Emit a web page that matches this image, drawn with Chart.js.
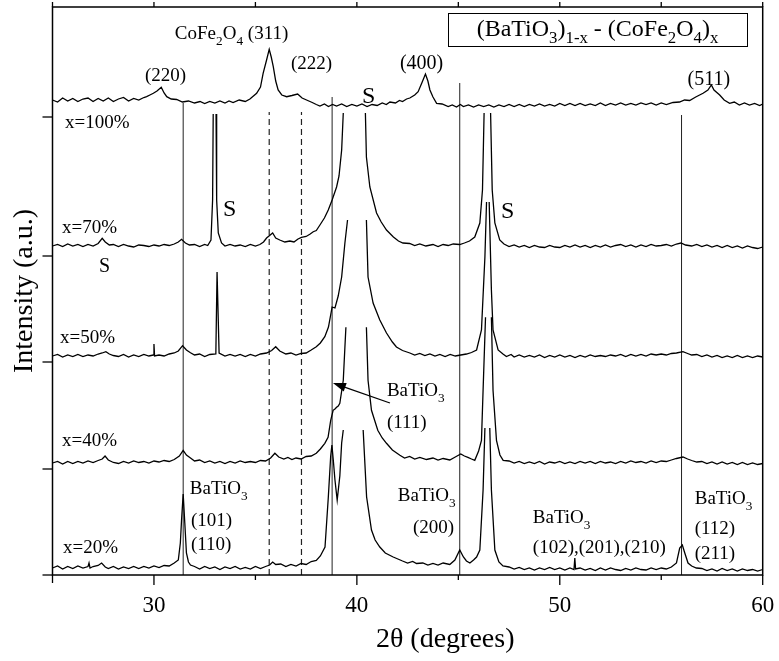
<!DOCTYPE html>
<html>
<head>
<meta charset="utf-8">
<title>XRD (BaTiO3)1-x - (CoFe2O4)x</title>
<script src="https://cdn.jsdelivr.net/npm/chart.js@4.4.0/dist/chart.umd.min.js"></script>
<style>
  html, body { margin: 0; padding: 0; background: #fff; }
  #wrap { width: 779px; height: 661px; }
</style>
</head>
<body>
<div id="wrap"><canvas id="xrdChart" width="779" height="661"></canvas></div>
<script>
// === DATA (2theta in degrees, intensity in a.u. relative to each scan's baseline) ===
const twoThetaRange = [25, 60];
const xTickValues = [25, 30, 35, 40, 45, 50, 55, 60];
const yTickValues = [0, 106, 213, 319, 458];
const yMax = 568;

const sampleLabels = ['x=20%', 'x=40%', 'x=50%', 'x=70%', 'x=100%'];
const stackOffsets = [7, 112, 219, 329, 470];

// null = peak cut off (top of the peak not drawn)
const scan20 = [[25,0],[25.25,2],[25.5,-1],[25.75,1.5],[26,-0.5],[26.25,2],[26.5,0],[26.75,1.5],[26.8,5],[26.85,0],[27,1.5],[27.25,2.5],[27.42,5],[27.6,1],[27.75,-0.5],[28,1.5],[28.25,-1],[28.5,1],[28.75,-0.5],[29,1.5],[29.25,-0.5],[29.5,1.5],[29.75,0],[30,2],[30.25,0.5],[30.5,2.5],[30.75,2],[31,5],[31.2,8],[31.3,25],[31.36,48],[31.44,74],[31.52,45],[31.6,15],[31.7,6],[31.8,3],[32,1.5],[32.25,-1],[32.5,1.5],[32.75,-0.5],[33,1],[33.25,-1.5],[33.5,1],[33.75,-0.5],[34,1.5],[34.25,-1],[34.5,0.5],[34.75,-1],[35,1.5],[35.25,-0.5],[35.5,1.5],[35.7,3],[35.85,6],[36,3.5],[36.25,4],[36.5,1.5],[36.75,3.5],[37,2],[37.25,4.5],[37.5,3.5],[37.75,6.5],[38,7.5],[38.2,12],[38.43,21],[38.59,70],[38.71,112],[38.77,123],[38.85,105],[38.92,88],[39.03,68],[39.16,92],[39.25,125],[39.33,138],[39.8,null],[40.31,138],[40.48,71],[40.72,38],[40.9,28],[41.13,21],[41.4,15],[41.79,11],[42.25,7],[42.5,5],[42.75,6.5],[42.94,4.5],[43.25,5],[43.5,3],[43.75,4.5],[44,3],[44.25,5],[44.58,3.5],[44.83,8],[45.07,18],[45.25,11],[45.4,7],[45.57,5],[45.75,8],[45.9,11],[46.06,18],[46.22,78],[46.31,140],[46.43,null],[46.55,140],[46.63,78],[46.8,18],[47,6],[47.2,2],[47.5,1],[47.75,-1],[48,0.5],[48.25,-1.5],[48.5,0],[48.75,-2],[49,0],[49.25,-1.5],[49.5,0.5],[49.75,-1.5],[50,0],[50.25,-2],[50.5,0],[50.7,-1.5],[50.74,10],[50.78,-1],[51,0],[51.25,-2],[51.5,-0.5],[51.75,-2.5],[52,0],[52.25,-2],[52.5,0],[52.75,-1.5],[53,-2.5],[53.25,-0.5],[53.5,-2],[53.75,0],[54,-1.5],[54.25,-2],[54.5,0],[54.75,-1.5],[55,0],[55.25,-1],[55.5,1],[55.75,5],[55.91,20],[56.04,23],[56.16,15],[56.32,5],[56.5,2],[56.73,0],[57,-0.5],[57.25,-2.5],[57.5,-1],[57.75,-3],[58,-0.5],[58.25,-2.5],[58.5,-1],[58.75,-3],[59,-1],[59.25,-2.5],[59.5,-1.5],[59.75,-3],[60,-1.5]];

const scan40 = [[25,0],[25.25,1.5],[25.5,-1],[25.75,1.5],[26,-0.5],[26.25,1.5],[26.5,0],[26.75,2],[27,0.5],[27.25,2.5],[27.45,4],[27.59,7],[27.75,3],[28,0.5],[28.25,-0.5],[28.5,1.5],[28.75,0],[29,2],[29.25,0.5],[29.5,1.5],[29.75,0],[30,2],[30.25,1],[30.5,2.5],[30.75,1.5],[31,3.5],[31.25,7],[31.44,12.7],[31.6,8],[31.8,5],[32,2],[32.25,3],[32.5,0.5],[32.75,2],[33,0],[33.25,1.5],[33.5,-0.5],[33.75,1.5],[34,0],[34.25,2],[34.5,0.5],[34.75,1.5],[35,0.5],[35.25,2.5],[35.5,2],[35.75,5],[35.96,9.7],[36.15,6],[36.4,4],[36.6,5.5],[36.8,3.5],[37,5],[37.25,4],[37.5,6.5],[37.75,7],[38,9.7],[38.2,14],[38.42,19.7],[38.58,25.7],[38.71,42.7],[38.83,52.7],[38.92,54],[39,55.7],[39.08,57],[39.16,59.7],[39.33,82.7],[39.41,115.7],[39.46,135.7],[39.9,null],[40.47,135.7],[40.55,82.7],[40.72,52.7],[41.03,32.7],[41.25,25],[41.46,19.7],[41.75,13],[42.12,7.7],[42.35,5],[42.6,6.5],[42.85,4],[43.1,5.5],[43.43,3.5],[43.75,5],[44,3],[44.25,4.5],[44.58,3],[44.85,6],[45.12,9],[45.3,7],[45.47,5.7],[45.65,4],[45.81,2.7],[46,12],[46.14,22.7],[46.22,72.7],[46.34,145.7],[46.45,null],[46.63,145.7],[46.71,72.7],[46.88,22.7],[47.05,8],[47.21,2.7],[47.5,2],[47.75,0],[48,1.5],[48.25,-0.5],[48.5,1],[48.75,-0.5],[49,1.5],[49.25,-1],[49.5,1],[49.75,0],[50,1.5],[50.25,-0.5],[50.5,1],[50.75,-0.5],[51,1.5],[51.25,0],[51.5,1.5],[51.75,-0.5],[52,1.5],[52.25,0],[52.5,1],[52.75,-0.5],[53,1.5],[53.25,0],[53.5,2],[53.75,0.5],[54,1.5],[54.25,0],[54.5,2],[54.75,0.5],[55,2],[55.25,1.5],[55.5,3],[55.75,4.5],[56.07,6],[56.3,4],[56.5,2.5],[56.75,1],[57,1.5],[57.25,-0.5],[57.5,1],[57.75,-1],[58,1],[58.25,-1],[58.5,0.5],[58.75,-1.5],[59,0.5],[59.25,-1.5],[59.5,0],[59.75,-1.5],[60,-0.5]];

const scan50 = [[25,0],[25.25,1.5],[25.5,-1],[25.75,1],[26,-0.5],[26.25,1.5],[26.5,-0.5],[26.75,1],[27,0],[27.25,2],[27.45,3],[27.63,4.3],[27.8,2],[28,0.5],[28.25,-0.5],[28.5,1.5],[28.75,-1],[29,1],[29.25,-0.5],[29.5,1.5],[29.75,0],[29.97,1],[30,12],[30.03,0],[30.25,1],[30.5,0],[30.75,2],[31,3],[31.2,5],[31.41,10.3],[31.6,6],[31.8,3.3],[32,1],[32.25,2],[32.5,-0.5],[32.75,1.5],[33.05,2],[33.11,84],[33.15,84],[33.21,3],[33.5,0],[33.75,1.5],[34,0],[34.25,1.5],[34.5,-0.5],[34.75,1.5],[35,0],[35.25,2],[35.55,3],[35.8,5.5],[36,9.3],[36.2,5],[36.5,2],[36.75,3],[37,1],[37.25,2.5],[37.5,3],[37.75,6],[38,9.3],[38.2,13],[38.42,19.3],[38.6,29],[38.78,49],[38.92,48],[39.08,60],[39.25,79],[39.41,113],[39.54,136],[40,null],[40.47,136],[40.55,79],[40.8,53],[41.13,36],[41.46,23],[41.75,14],[41.95,9],[42.25,5.5],[42.61,3],[42.85,1],[43.1,2.5],[43.35,0.5],[43.6,2],[43.85,0],[44.09,1.5],[44.35,-0.5],[44.6,1.5],[44.85,0],[45.12,1],[45.4,2],[45.65,3.5],[45.9,6],[46.14,26],[46.31,99],[46.39,154],[46.45,null],[46.52,154],[46.63,66],[46.71,26],[46.96,6],[47.2,2],[47.37,-0.5],[47.6,1.5],[47.75,-1],[48,1],[48.25,-1],[48.5,0.5],[48.75,-1],[49,1],[49.25,-1.5],[49.5,0.5],[49.75,-1],[50,1],[50.25,-1],[50.5,0.5],[50.75,-1.5],[51,0.5],[51.25,-1],[51.5,1],[51.75,-0.5],[52,0.5],[52.25,-0.5],[52.5,1],[52.75,0],[53,1.5],[53.25,-0.5],[53.5,1.5],[53.75,0],[54,1.5],[54.25,0],[54.5,2],[54.75,1],[55,2],[55.25,1],[55.5,2.5],[55.75,3],[56.07,4.3],[56.3,2.5],[56.5,1],[56.75,1.5],[57,-0.5],[57.25,1],[57.5,-1],[57.75,0.5],[58,-1.5],[58.25,0],[58.5,-1.5],[58.75,0.5],[59,-1.5],[59.25,0],[59.5,-1.5],[59.75,0],[60,-1]];

const scan70 = [[25,0],[25.25,1.5],[25.5,-0.5],[25.75,2],[26,0],[26.25,1.5],[26.5,-0.5],[26.75,1.5],[27,0],[27.25,2.5],[27.45,7.7],[27.6,4],[27.8,1],[28,1.5],[28.25,-0.5],[28.5,1.5],[28.75,0],[29,-1],[29.25,1],[29.5,0.5],[29.75,-0.5],[30,1],[30.25,0],[30.5,1.5],[30.75,0.5],[31,2],[31.2,4],[31.36,6.7],[31.55,3],[31.75,1],[32,1.5],[32.25,-0.5],[32.5,1.5],[32.65,0.5],[32.81,6],[32.89,46],[32.92,132],[32.99,null],[33.06,132],[33.09,46],[33.17,13],[33.33,3],[33.5,0],[33.75,1.5],[34,0],[34.25,1],[34.5,-0.5],[34.75,1.5],[35,0],[35.22,1.5],[35.4,4],[35.55,8],[35.85,13],[36,8],[36.2,6],[36.45,4],[36.7,5],[36.9,4],[37.1,7],[37.27,8.7],[37.5,9.5],[37.7,12],[37.85,14.3],[38,15.5],[38.18,21],[38.4,28],[38.59,36],[38.78,46],[39,59],[39.12,70],[39.25,96],[39.33,133],[39.9,null],[40.42,133],[40.47,89],[40.64,59],[40.97,33],[41.2,24],[41.46,16],[41.8,9],[42.05,5],[42.27,3],[42.6,2.5],[42.85,0.5],[43.1,2],[43.4,0],[43.75,1.5],[44,-0.5],[44.25,1.5],[44.5,0.5],[44.75,2],[45.07,1.5],[45.3,3],[45.55,5],[45.81,9],[46.06,23],[46.19,56],[46.27,133],[46.43,null],[46.59,133],[46.67,56],[46.8,23],[47.04,6],[47.25,2],[47.5,-0.5],[47.75,1],[48,-1],[48.25,0.5],[48.5,-1.5],[48.75,0.5],[49,-1],[49.25,-1.5],[49.5,0.5],[49.75,-1],[50,-1.5],[50.25,0.5],[50.5,-1],[50.75,1],[51,-1],[51.25,0.5],[51.5,-1.5],[51.75,0.5],[52,-1],[52.25,1],[52.5,-1],[52.75,0.5],[53,1.5],[53.25,-0.5],[53.5,1],[53.75,-1],[54,1],[54.25,-0.5],[54.5,1.5],[54.75,0],[55,0.5],[55.25,1.5],[55.5,0],[55.75,2],[55.97,3],[56.2,1],[56.5,0],[56.75,1.5],[57,-0.5],[57.25,1],[57.5,-1],[57.75,0.5],[58,-1.5],[58.25,0.5],[58.5,-1.5],[58.75,0],[59,-2],[59.25,0],[59.5,-1.5],[59.75,-2.5],[60,-1]];

const scan100 = [[25,5],[25.25,3],[25.5,7],[25.75,4],[26,6.5],[26.25,3.5],[26.5,6],[26.75,7],[27,3.5],[27.25,6.5],[27.5,4],[27.75,7],[28,3.5],[28.25,6],[28.5,7.5],[28.75,4],[29,6.5],[29.25,5],[29.5,7.5],[29.64,8.3],[29.8,10],[29.97,11.7],[30.15,14],[30.36,17.7],[30.5,12],[30.63,8.3],[30.85,6],[31.12,5.5],[31.4,3],[31.7,4],[32,2],[32.27,3.5],[32.5,1.5],[32.75,3.5],[33,2],[33.25,4],[33.5,2],[33.7,4],[33.9,2.5],[34.2,5],[34.5,3.5],[34.73,6],[35.06,11.7],[35.25,18],[35.38,31.7],[35.55,45],[35.68,55.7],[35.78,48],[35.88,38.3],[36,24],[36.12,15],[36.3,10],[36.54,8.3],[36.8,9.5],[37.08,11],[37.3,7],[37.52,5],[37.8,2.5],[38,0.5],[38.18,-1],[38.4,1],[38.6,-1.5],[38.8,0.5],[39,-1],[39.25,1],[39.5,-1.5],[39.75,0.5],[40,-1],[40.25,1],[40.5,-1.5],[40.75,0.5],[41,-0.5],[41.25,2],[41.45,0.5],[41.63,3],[41.9,2],[42.1,4.5],[42.25,3.5],[42.45,6],[42.61,7],[42.85,10],[43.02,13.3],[43.2,22],[43.38,31],[43.5,24],[43.6,15],[43.75,8],[43.93,1.7],[44.2,1],[44.5,-1.5],[44.7,0],[44.91,-2],[45.1,0.5],[45.25,-1.5],[45.5,0],[45.75,-2],[46,0],[46.25,-1.5],[46.5,0],[46.75,-2],[47,0],[47.25,-1.5],[47.5,0.5],[47.75,-1.5],[48,0.5],[48.25,-1.5],[48.5,0.5],[48.75,-1],[49,1],[49.25,-1],[49.5,0.5],[49.75,-1],[50,1.5],[50.25,-0.5],[50.5,1.5],[50.75,-0.5],[51,1.5],[51.25,-0.5],[51.5,1],[51.75,-0.5],[52,2],[52.25,-0.5],[52.5,1.5],[52.75,0],[53,2],[53.25,0],[53.5,1.5],[53.75,0],[54,2],[54.25,0.5],[54.5,2],[54.75,0],[55,2],[55.25,0.5],[55.58,2.5],[55.9,3],[56.15,5],[56.4,4.5],[56.7,8],[57.06,11.7],[57.3,15],[57.47,20],[57.6,15],[57.88,10],[58.1,5],[58.37,1.7],[58.6,3],[58.85,0],[59.1,2],[59.35,0],[59.6,1.5],[59.85,-0.5],[60,1]];

// reference peak positions
const batioLines = [31.44, 38.78, 45.07, 56.0];
const batioLineTops = [472, 478, 492, 460];
const cfoLines = [35.68, 37.27];
const cfoLineTop = 463;

const scans = [scan20, scan40, scan50, scan70, scan100];

// === ANNOTATIONS (placed in data coordinates) ===
const notes = [
  { parts: ['CoFe', ['2'], 'O', ['4'], ' (311)'], at: [31.03, 542], size: 19 },
  { parts: ['(220)'], at: [29.56, 500], size: 19 },
  { parts: ['(222)'], at: [36.75, 512], size: 19 },
  { parts: ['(400)'], at: [42.12, 513], size: 20 },
  { parts: ['(511)'], at: [56.3, 497], size: 20 },
  { parts: ['S'], at: [40.25, 480], size: 24 },
  { parts: ['S'], at: [33.4, 367], size: 24 },
  { parts: ['S'], at: [47.1, 365], size: 24 },
  { parts: ['S'], at: [27.29, 310], size: 20 },
  { parts: ['x=100%'], at: [25.62, 453], size: 19 },
  { parts: ['x=70%'], at: [25.47, 348], size: 19 },
  { parts: ['x=50%'], at: [25.37, 238], size: 19 },
  { parts: ['x=40%'], at: [25.47, 135], size: 19 },
  { parts: ['x=20%'], at: [25.52, 28], size: 19 },
  { parts: ['BaTiO', ['3']], at: [41.48, 185], size: 19 },
  { parts: ['(111)'], at: [41.48, 153], size: 19 },
  { parts: ['BaTiO', ['3']], at: [42.02, 80], size: 19 },
  { parts: ['(200)'], at: [42.76, 48], size: 19 },
  { parts: ['BaTiO', ['3']], at: [31.77, 87], size: 19 },
  { parts: ['(101)'], at: [31.82, 55], size: 19 },
  { parts: ['(110)'], at: [31.82, 31], size: 19 },
  { parts: ['BaTiO', ['3']], at: [48.67, 58], size: 19 },
  { parts: ['(102),(201),(210)'], at: [48.67, 28], size: 19 },
  { parts: ['BaTiO', ['3']], at: [56.65, 77], size: 19 },
  { parts: ['(112)'], at: [56.65, 47], size: 19 },
  { parts: ['(211)'], at: [56.65, 22], size: 19 }
];
const arrow111 = { from: [41.63, 172], to: [38.82, 192] };
const legendParts = ['(BaTiO', ['3'], ')', ['1-x'], ' - (CoFe', ['2'], 'O', ['4'], ')', ['x']];

const SERIF = '"Liberation Serif", "Times New Roman", serif';

function drawRich(ctx, parts, x, y, size, align) {
  const segs = parts.map(p => Array.isArray(p)
    ? { t: p[0], s: size * 0.7, dy: size * 0.3 }
    : { t: p, s: size, dy: 0 });
  let w = 0;
  segs.forEach(g => {
    ctx.font = g.s + 'px ' + SERIF;
    g.w = ctx.measureText(g.t).width;
    w += g.w;
  });
  let cx = align === 'center' ? x - w / 2 : x;
  const base = y + size * 0.33;
  ctx.textAlign = 'left';
  ctx.textBaseline = 'alphabetic';
  segs.forEach(g => {
    ctx.font = g.s + 'px ' + SERIF;
    ctx.fillText(g.t, cx, base + g.dy);
    cx += g.w;
  });
  return w;
}

function seg(ctx, x1, y1, x2, y2) {
  ctx.beginPath();
  ctx.moveTo(x1, y1);
  ctx.lineTo(x2, y2);
  ctx.stroke();
}

// frame, tick marks, labels, arrow, legend box
const decorations = {
  id: 'decorations',
  afterDatasetsDraw(chart) {
    const { ctx, chartArea: a, scales: { x, y } } = chart;
    ctx.save();
    ctx.strokeStyle = '#000';
    ctx.fillStyle = '#000';

    ctx.lineWidth = 1.5;
    ctx.strokeRect(a.left, a.top, a.right - a.left, a.bottom - a.top);

    ctx.lineWidth = 1.3;
    xTickValues.forEach((v, i) => {
      const px = x.getPixelForValue(v);
      const len = v % 10 === 0 ? 10 : (i === 0 ? 8 : 5);
      seg(ctx, px, a.bottom, px, a.bottom + len);
      seg(ctx, px, a.top, px, a.top - 5);
    });
    yTickValues.forEach(v => {
      const py = y.getPixelForValue(v);
      seg(ctx, a.left - 10, py, a.left, py);
    });

    notes.forEach(n => {
      drawRich(ctx, n.parts, x.getPixelForValue(n.at[0]), y.getPixelForValue(n.at[1]), n.size, 'left');
    });

    // arrow to BaTiO3 (111)
    const x1 = x.getPixelForValue(arrow111.from[0]), y1 = y.getPixelForValue(arrow111.from[1]);
    const x2 = x.getPixelForValue(arrow111.to[0]), y2 = y.getPixelForValue(arrow111.to[1]);
    const ang = Math.atan2(y2 - y1, x2 - x1);
    ctx.lineWidth = 1.3;
    seg(ctx, x1, y1, x2 - 10 * Math.cos(ang), y2 - 10 * Math.sin(ang));
    ctx.beginPath();
    ctx.moveTo(x2, y2);
    ctx.lineTo(x2 - 13 * Math.cos(ang) + 4.5 * Math.sin(ang), y2 - 13 * Math.sin(ang) - 4.5 * Math.cos(ang));
    ctx.lineTo(x2 - 13 * Math.cos(ang) - 4.5 * Math.sin(ang), y2 - 13 * Math.sin(ang) + 4.5 * Math.cos(ang));
    ctx.closePath();
    ctx.fill();

    // legend box, top right
    const bw = 299, bh = 33;
    const bx = a.right - 15.7 - bw, by = a.top + 6;
    ctx.fillStyle = '#fff';
    ctx.fillRect(bx, by, bw, bh);
    ctx.lineWidth = 1;
    ctx.strokeRect(bx + 0.5, by + 0.5, bw, bh);
    ctx.fillStyle = '#000';
    drawRich(ctx, legendParts, bx + bw / 2, by + 15, 24, 'center');

    // x axis title
    ctx.font = '28px ' + SERIF;
    ctx.textAlign = 'center';
    ctx.textBaseline = 'middle';
    ctx.fillText('2\u03b8 (degrees)', a.left + 0.553 * (a.right - a.left), 640);
    ctx.restore();
  }
};

const datasets = scans.map((s, i) => ({
  label: sampleLabels[i],
  data: s.map(([t, v]) => ({ x: t, y: v === null ? null : v + stackOffsets[i] })),
  borderColor: '#000',
  borderWidth: 1.3,
  pointRadius: 0,
  tension: 0,
  spanGaps: false
}));
batioLines.forEach((t, i) => datasets.push({
  label: 'BaTiO3 ' + t,
  data: [{ x: t, y: 0 }, { x: t, y: batioLineTops[i] }],
  borderColor: '#222',
  borderWidth: 1,
  pointRadius: 0
}));
cfoLines.forEach(t => datasets.push({
  label: 'CoFe2O4 ' + t,
  data: [{ x: t, y: 0 }, { x: t, y: cfoLineTop }],
  borderColor: '#222',
  borderWidth: 1.2,
  borderDash: [6, 4],
  pointRadius: 0
}));

new Chart(document.getElementById('xrdChart'), {
  type: 'line',
  data: { datasets },
  options: {
    responsive: false,
    animation: false,
    devicePixelRatio: 1,
    layout: { padding: { top: 7, right: 16.3, left: 0, bottom: 0 } },
    plugins: { legend: { display: false }, tooltip: { enabled: false } },
    scales: {
      x: {
        type: 'linear',
        min: twoThetaRange[0],
        max: twoThetaRange[1],
        afterBuildTicks: s => { s.ticks = xTickValues.map(v => ({ value: v })); },
        afterFit: s => { s.height = 86; s.paddingLeft = 0; s.paddingRight = 0; },
        grid: { display: false },
        border: { display: false },
        ticks: {
          autoSkip: false,
          maxRotation: 0,
          padding: 9,
          color: '#000',
          font: { family: SERIF, size: 23 },
          callback: v => (v % 10 === 0 ? v : '')
        }
      },
      y: {
        min: 0,
        max: yMax,
        afterBuildTicks: s => { s.ticks = yTickValues.map(v => ({ value: v })); },
        afterFit: s => { s.width = 52.5; },
        grid: { display: false },
        border: { display: false },
        ticks: { display: false },
        title: {
          display: true,
          text: 'Intensity (a.u.)',
          color: '#000',
          font: { family: SERIF, size: 28 },
          padding: { top: 8, bottom: 0 }
        }
      }
    }
  },
  plugins: [decorations]
});
</script>
</body>
</html>
